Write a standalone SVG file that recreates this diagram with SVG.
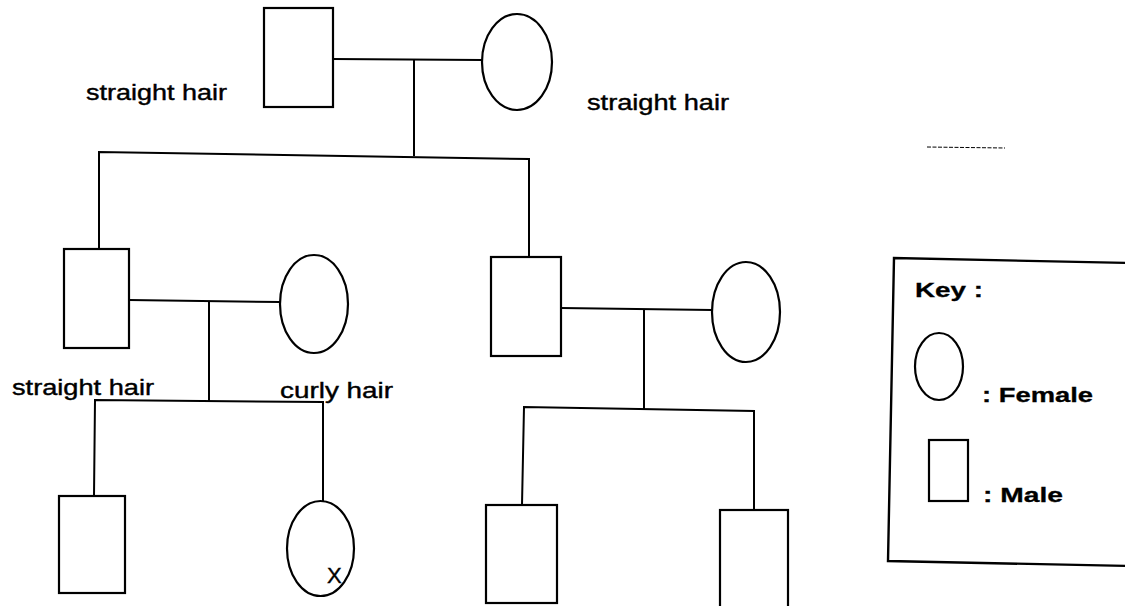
<svg xmlns="http://www.w3.org/2000/svg" width="1125" height="606" viewBox="0 0 1125 606">
<style>
.sym{fill:#fff;stroke:#000;stroke-width:2.2}
.ln{fill:none;stroke:#000;stroke-width:2}
.lbl{font-family:"Liberation Sans",Arial,sans-serif;font-size:22px;fill:#000;stroke:#000;stroke-width:0.4}
.key{font-family:"Liberation Sans",Arial,sans-serif;font-size:21px;font-weight:bold;fill:#000;stroke:#000;stroke-width:0.3}
</style>
<rect width="1125" height="606" fill="#fff"/>
<g id="connectors">
<path class="ln" d="M333,59 L482,60"/>
<path class="ln" d="M414,60 L414,156"/>
<path class="ln" d="M99,249 L99,152 L529,159 L529,257"/>
<path class="ln" d="M129,300 L280,302"/>
<path class="ln" d="M209,301 L209,401"/>
<path class="ln" d="M94,496 L95,400 L323,402 L323,501"/>
<path class="ln" d="M561,308 L712,310"/>
<path class="ln" d="M644,310 L644,409"/>
<path class="ln" d="M522,505 L524,407 L754,411 L754,510"/>
</g>
<g id="gen1-male"><rect class="sym" x="264" y="8" width="69" height="99"/></g>
<g id="gen1-female"><ellipse class="sym" cx="517" cy="62" rx="35" ry="48"/></g>
<g id="gen2-left-male"><rect class="sym" x="64" y="249" width="65" height="99"/></g>
<g id="gen2-left-female"><ellipse class="sym" cx="314" cy="304" rx="34" ry="49"/></g>
<g id="gen2-right-male"><rect class="sym" x="491" y="257" width="70" height="99"/></g>
<g id="gen2-right-female"><ellipse class="sym" cx="746" cy="312" rx="34" ry="50"/></g>
<g id="gen3-male-1"><rect class="sym" x="59" y="496" width="66" height="97"/></g>
<g id="gen3-female"><ellipse class="sym" cx="320.5" cy="548.5" rx="33.5" ry="47.5"/><text class="lbl" x="327" y="583" font-size="23">X</text></g>
<g id="gen3-male-2"><rect class="sym" x="486" y="505" width="71" height="98"/></g>
<g id="gen3-male-3"><rect class="sym" x="720" y="510" width="68" height="110"/></g>
<g id="labels">
<text class="lbl" x="86" y="100" textLength="141" lengthAdjust="spacingAndGlyphs">straight hair</text>
<text class="lbl" x="587" y="110" textLength="142" lengthAdjust="spacingAndGlyphs">straight hair</text>
<text class="lbl" x="12" y="395" textLength="142" lengthAdjust="spacingAndGlyphs">straight hair</text>
<text class="lbl" x="280" y="398" textLength="113" lengthAdjust="spacingAndGlyphs">curly hair</text>
</g>
<path d="M927,147 L1005,148" stroke="#000" stroke-width="1" stroke-dasharray="4,1.5" fill="none"/>
<g id="key">
<path d="M1130,263 L894,258 L888,561 L1130,566" fill="#fff" stroke="#000" stroke-width="2.4"/>
<text class="key" x="915" y="297" textLength="68" lengthAdjust="spacingAndGlyphs">Key :</text>
<ellipse class="sym" cx="939" cy="366.5" rx="24" ry="33.5"/>
<text class="key" x="982" y="402" textLength="111" lengthAdjust="spacingAndGlyphs">: Female</text>
<rect class="sym" x="929" y="440" width="39" height="61"/>
<text class="key" x="983" y="502" textLength="80" lengthAdjust="spacingAndGlyphs">: Male</text>
</g>
</svg>
